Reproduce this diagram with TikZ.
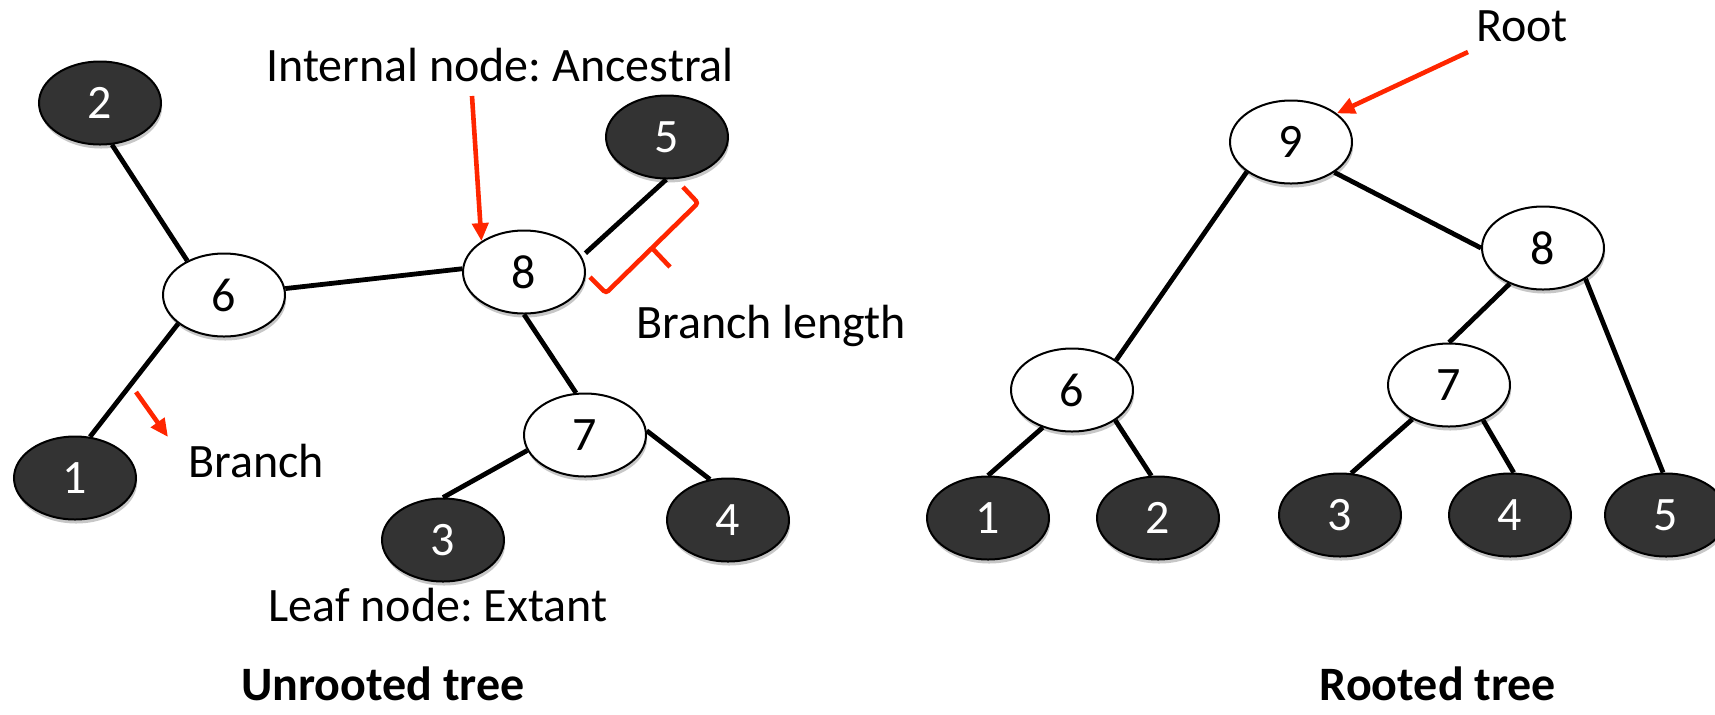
\documentclass[tikz,border=0pt]{standalone}
\usepackage{fontspec}
\setmainfont{Carlito}
\usetikzlibrary{shapes.geometric,arrows.meta,shadows}
\definecolor{nodedark}{HTML}{333333}
\definecolor{annot}{HTML}{FF2600}
\frenchspacing
\begin{document}
\begin{tikzpicture}[x=0.5pt,y=-0.5pt,
  nbase/.style={ellipse, draw=black, line width=1pt, minimum width=61pt, minimum height=41.5pt,
    inner sep=0pt, font=\fontsize{24}{28}\selectfont,
    drop shadow={shadow xshift=0.6pt, shadow yshift=-2pt, opacity=0.22, fill=black}},
  leaf/.style={nbase, fill=nodedark, text=white},
  anc/.style={nbase, fill=white, text=black},
  branch/.style={line width=2.4pt},
  redarrow/.style={draw=annot, line width=2.3pt, -{Triangle[length=9pt,width=8pt]}},
  lbl/.style={font=\fontsize{24}{28}\selectfont, inner sep=0pt},
  ttl/.style={font=\bfseries\fontsize{24}{28}\selectfont, inner sep=0pt}
]
\useasboundingbox (0,0) rectangle (1715,714);

% ---------- Unrooted tree ----------
\node[leaf] (n2) at (100,103) {2};
\node[leaf] (n5) at (667,137) {5};
\node[anc]  (n6) at (224,295) {6};
\node[anc]  (n8) at (524,272) {8};
\node[leaf] (n1) at (75,478) {1};
\node[anc]  (n7) at (585,435) {7};
\node[leaf] (n3) at (443,540) {3};
\node[leaf] (n4) at (728,520) {4};

\draw[branch] (n2.-74) -- (n6.137);
\draw[branch] (n6.6) -- (n8.177);
\draw[branch, shorten <=2.5pt] (n8.15) -- (n5.-91);
\draw[branch] (n8.-90) -- (n7.102);
\draw[branch] (n6.212) -- (n1.70);
\draw[branch] (n7.195) -- (n3.90);
\draw[branch] (n7.4) -- (n4.114);

\node[lbl, anchor=base] (tint) at (500,81) {Internal node: Ancestral};
\node[lbl, anchor=base west] (tlen) at (636,338) {Branch length};
\node[lbl, anchor=base west] (tbr) at (188,477) {Branch};
\node[lbl, anchor=base west] (tleaf) at (268,621) {Leaf node: Extant};
\node[ttl, anchor=base] (tunr) at (383,700) {Unrooted tree};

\coordinate (ia) at (472,96);
\draw[redarrow] (ia) -- (n8.144);
\coordinate (ba1) at (136,392);
\coordinate (ba2) at (168,437);
\draw[redarrow] (ba1) -- (ba2);

% bracket marking branch length
\draw[annot, line width=2.3pt, rounded corners=1.5pt]
  (683,187) -- (698,203) -- (606,293) -- (590,277);
\draw[annot, line width=2.3pt] (652,248) -- (670,267);

% ---------- Rooted tree ----------
\node[anc]  (r9) at (1291,142) {9};
\node[anc]  (r8) at (1543,248) {8};
\node[anc]  (r6) at (1072,390) {6};
\node[anc]  (r7) at (1449,385) {7};
\node[leaf] (r1) at (988,518) {1};
\node[leaf] (r2) at (1158,518) {2};
\node[leaf] (r3) at (1340,515) {3};
\node[leaf] (r4) at (1510,515) {4};
\node[leaf] (r5) at (1666,515) {5};

\draw[branch] (r9.214) -- (r6.34);
\draw[branch] (r9.-35) -- (r8.180);
\draw[branch] (r8.227) -- (r7.90);
\draw[branch] (r8.-36) -- (r5.94);
\draw[branch] (r6.232) -- (r1.90);
\draw[branch] (r6.-35) -- (r2.99);
\draw[branch] (r7.223.5) -- (r3.75);
\draw[branch] (r7.-46) -- (r4.85);

\node[lbl, anchor=base] (troot) at (1522,41) {Root};
\node[ttl, anchor=base] (trt) at (1438,700) {Rooted tree};
\coordinate (ra) at (1468,52);
\draw[redarrow] (ra) -- (r9.32);
\end{tikzpicture}
\end{document}
